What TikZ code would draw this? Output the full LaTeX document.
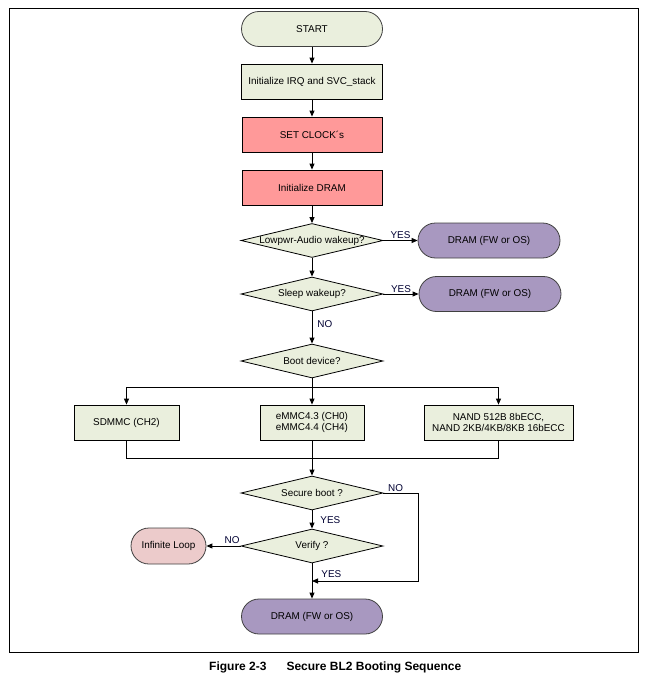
\documentclass[tikz,border=0pt]{standalone}
\usepackage{fontspec}
\setmainfont{Liberation Sans}
\usetikzlibrary{shapes.geometric, arrows.meta}
\definecolor{boxgreen}{RGB}{234,239,221}
\definecolor{boxred}{RGB}{255,153,153}
\definecolor{boxpurple}{RGB}{168,152,192}
\definecolor{boxpink}{RGB}{236,203,203}
\definecolor{lblcol}{RGB}{0,0,50}
\begin{document}
\begin{tikzpicture}[x=1pt,y=-1pt,
  base/.style={draw=black, line width=0.8pt, font=\fontsize{9.9}{11.8}\selectfont, inner sep=0pt, align=center},
  procbox/.style={base, rectangle, fill=boxgreen, minimum height=35pt},
  redbox/.style={base, rectangle, fill=boxred, minimum width=140pt, minimum height=35pt},
  term/.style={base, rectangle, rounded corners=17.5pt, draw=black!75, minimum height=35pt},
  decision/.style={base, diamond, fill=boxgreen, minimum width=142pt, minimum height=34pt},
  flow/.style={line width=0.9pt, -{Triangle[length=6pt,width=5pt]}},
  plain/.style={line width=0.9pt},
  lbl/.style={font=\fontsize{9.9}{11}\selectfont, text=lblcol, inner sep=0pt}
]
\useasboundingbox (0,0) rectangle (649,679);
\draw[line width=1pt] (9,8.3) rectangle (638.7,652.7);

\node[term, fill=boxgreen, minimum width=141pt] (start) at (312,29) {START};
\node[procbox, minimum width=141pt] (init) at (312,81.5) {Initialize IRQ and SVC\_stack};
\node[redbox] (clk) at (312,134.5) {SET CLOCK´s};
\node[redbox] (idram) at (312,187.5) {Initialize DRAM};
\node[decision] (low) at (312,240.5) {\makebox[0pt]{Lowpwr-Audio wakeup?}};
\node[term, fill=boxpurple, minimum width=142pt] (os1) at (489,240.5) {DRAM (FW or OS)};
\node[decision] (sleep) at (312,294) {\makebox[0pt]{Sleep wakeup?}};
\node[term, fill=boxpurple, minimum width=142pt] (os2) at (490,294) {DRAM (FW or OS)};
\node[decision] (boot) at (312,361) {\makebox[0pt]{Boot device?}};
\node[procbox, minimum width=105pt] (sd) at (126.5,422.5) {SDMMC (CH2)};
\node[procbox, minimum width=104pt] (emmc) at (312,422.5) {eMMC4.3 (CH0)\\eMMC4.4 (CH4)};
\node[procbox, minimum width=149pt] (nand) at (498.5,422.5) {NAND 512B 8bECC,\\NAND 2KB/4KB/8KB 16bECC};
\node[decision] (sec) at (312,493) {\makebox[0pt]{Secure boot ?}};
\node[decision] (ver) at (312,546) {\makebox[0pt]{Verify ?}};
\node[term, fill=boxpink, minimum width=75pt, minimum height=36pt, rounded corners=18pt] (loop) at (168.5,546) {Infinite Loop};
\node[term, fill=boxpurple, minimum width=141pt] (os3) at (312,616.5) {DRAM (FW or OS)};

\coordinate (split) at (312,387.5);
\coordinate (merge) at (312,458);
\coordinate (nojoin) at (312,581);

\draw[flow] (start) -- (init);
\draw[flow] (init) -- (clk);
\draw[flow] (clk) -- (idram);
\draw[flow] (idram) -- (low);
\draw[flow] (low) -- node[lbl, above=1pt, pos=0.5]{YES} (os1);
\draw[flow] (low) -- (sleep);
\draw[flow] (sleep) -- node[lbl, above=0.5pt, pos=0.5]{YES} (os2);
\draw[flow] (sleep) -- node[lbl, right=5pt, pos=0.4]{NO} (boot);
\draw[plain] (boot.south) -- (split);
\draw[flow] (split) -| (sd.north);
\draw[flow] (split) -- (emmc);
\draw[flow] (split) -| (nand.north);
\draw[plain] (sd.south) |- (merge);
\draw[plain] (nand.south) |- (merge);
\draw[flow] (emmc) -- (sec);
\draw[flow] (sec) -- node[lbl, right=8pt, pos=0.55]{YES} (ver);
\draw[flow] (sec.east) -- node[lbl, above=0.5pt, pos=0.35]{NO} ++(35,0) |- (nojoin);
\draw[flow] (ver) -- node[lbl, above=1.5pt, pos=0.25]{NO} (loop);
\draw[flow] (ver) -- node[lbl, right=9pt, pos=0.3]{YES} (os3);

\node[font=\bfseries\fontsize{12}{14}\selectfont, anchor=west, inner sep=0pt] (cap) at (209,667) {Figure 2-3\hspace{20pt}Secure BL2 Booting Sequence};
\end{tikzpicture}
\end{document}
